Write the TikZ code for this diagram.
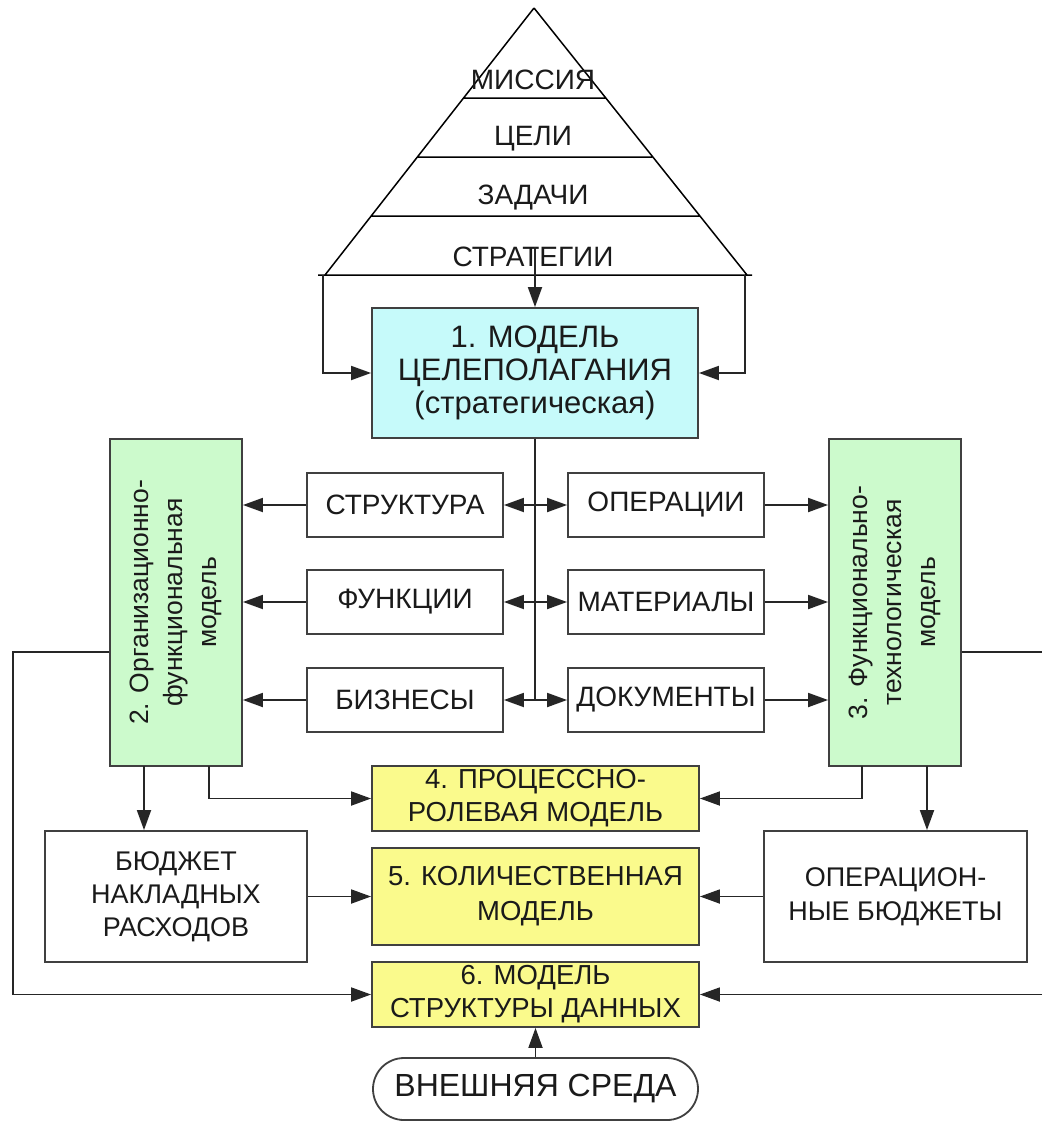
\documentclass[tikz,border=0pt]{standalone}
\usepackage{fontspec}
\setmainfont{Liberation Sans}
\usetikzlibrary{arrows.meta}
\definecolor{txt}{HTML}{1A1A1A}
\definecolor{bord}{HTML}{404040}
\definecolor{cyanbox}{HTML}{C6FAFA}
\definecolor{greenbox}{HTML}{CCFACC}
\definecolor{yellowbox}{HTML}{FAFA8C}
\tikzset{
  box/.style={draw=bord, line width=1.8pt, text=txt, align=center, inner sep=0pt},
  wbox/.style={box, fill=white},
  conn/.style={draw=black!85, line width=1.8pt},
  arr/.style={conn, -{Triangle[length=20pt,width=14pt]}},
  ptext/.style={text=txt, font=\fontsize{28}{32}\selectfont, inner sep=0pt},
}
\begin{document}
\begin{tikzpicture}[x=1pt,y=-1pt]
\useasboundingbox (0,0) rectangle (1042,1122);
% pyramid
\draw[black, line width=1.5pt] (534,8) -- (325,275) (534,8) -- (747,275)
  (318,275) -- (752,275)
  (463,98) -- (605,98) (417,157) -- (652,157) (371,216) -- (700,216);
\node[ptext] (mis) at (533,80) {МИССИЯ};
\node[ptext] (cel) at (533,139) {ЦЕЛИ};
\node[ptext] (zad) at (533,198) {ЗАДАЧИ};
\node[ptext] (strat) at (533,257) {СТРАТЕГИИ};
% model 1
\node[box, fill=cyanbox, minimum width=326, minimum height=130, font=\fontsize{31}{33}\selectfont] (m1) at (535,373)
  {1. МОДЕЛЬ\\ЦЕЛЕПОЛАГАНИЯ\\(стратегическая)};
\coordinate (pl) at (323,275);
\coordinate (pr) at (745,275);
\coordinate (sa) at (535,247);
\draw[arr] (sa) -- (m1.north);
\draw[arr] (pl) |- (m1.west);
\draw[arr] (pr) |- (m1.east);
% middle boxes
\tikzset{mid/.style={wbox, minimum width=196, minimum height=64, font=\fontsize{28}{32}\selectfont}}
\node[mid] (b1) at (405,505) {СТРУКТУРА};
\node[mid] (b2) at (405,602) {ФУНКЦИИ};
\node[mid] (b3) at (405,700) {БИЗНЕСЫ};
\node[mid] (c1) at (666,505) {ОПЕРАЦИИ};
\node[mid] (c2) at (666,602) {МАТЕРИАЛЫ};
\node[mid] (c3) at (666,700) {ДОКУМЕНТЫ};
\coordinate (s1) at (535,505);
\coordinate (s2) at (535,602);
\coordinate (s3) at (535,700);
\draw[conn] (m1.south) -- (s3);
\foreach \i in {1,2,3}{
  \draw[arr] (s\i) -- (b\i.east);
  \draw[arr] (s\i) -- (c\i.west);
}
% green boxes
\node[box, fill=greenbox, minimum width=132, minimum height=327] (og) at (176,602.5) {};
\node[text=txt, rotate=90, align=center, font=\fontsize{26.5}{34}\selectfont] (ogt) at (og.center) {2. Организационно-\\функциональная\\модель};
\node[box, fill=greenbox, minimum width=132, minimum height=327] (ft) at (895,602.5) {};
\node[text=txt, rotate=90, align=center, font=\fontsize{26.5}{34}\selectfont] (ftt) at (ft.center) {3. Функционально-\\технологическая\\модель};
\foreach \i in {1,2,3}{
  \draw[arr] (b\i.west) -- (b\i.west -| og.east);
  \draw[arr] (c\i.east) -- (c\i.east -| ft.west);
}
% yellow boxes
\tikzset{ybox/.style={box, fill=yellowbox, minimum width=327, font=\fontsize{27.5}{33}\selectfont}}
\node[ybox, minimum height=65] (m4) at (535.5,798.5) {4. ПРОЦЕССНО-\\РОЛЕВАЯ МОДЕЛЬ};
\node[ybox, minimum height=97, font=\fontsize{27.5}{35}\selectfont] (m5) at (535.5,896.5) {5. КОЛИЧЕСТВЕННАЯ\\МОДЕЛЬ};
\node[ybox, minimum height=65] (m6) at (535.5,994.5) {6. МОДЕЛЬ\\СТРУКТУРЫ ДАННЫХ};
% budgets
\node[wbox, minimum width=262, minimum height=131, font=\fontsize{27}{33}\selectfont] (bn) at (176,896.5) {БЮДЖЕТ\\НАКЛАДНЫХ\\РАСХОДОВ};
\node[wbox, minimum width=263, minimum height=131, font=\fontsize{27}{34}\selectfont] (ob) at (895.5,896.5) {ОПЕРАЦИОН-\\НЫЕ БЮДЖЕТЫ};
% external
\node[box, fill=white, rounded corners=31pt, minimum width=325, minimum height=62, font=\fontsize{32}{34}\selectfont] (ext) at (535.5,1089) {ВНЕШНЯЯ СРЕДА};
% connectors bottom
\coordinate (og1) at (144,766);
\coordinate (og2) at (209,766);
\coordinate (ft1) at (862,766);
\coordinate (ft2) at (927,766);
\draw[arr] (og1) -- (og1 |- bn.north);
\draw[arr] (ft2) -- (ft2 |- ob.north);
\draw[arr] (og2) |- (m4.west);
\draw[arr] (ft1) |- (m4.east);
\draw[arr] (bn.east) -- (m5.west);
\draw[arr] (ob.west) -- (m5.east);
\draw[arr] (ext.north) -- (m6.south);
\coordinate (lo) at (13,652);
\draw[arr] (og.west |- lo) -- (lo) |- (m6.west);
\coordinate (ro1) at (1042,652);
\coordinate (ro2) at (1042,994.5);
\draw[conn] (ft.east |- ro1) -- (ro1);
\draw[arr] (ro2) -- (m6.east);
\end{tikzpicture}
\end{document}
